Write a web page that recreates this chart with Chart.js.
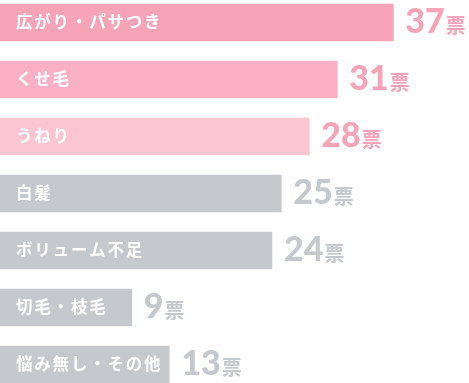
<!DOCTYPE html>
<html>
<head>
<meta charset="utf-8">
<script src="https://cdn.jsdelivr.net/npm/chart.js@4/dist/chart.umd.min.js"></script>
<style>
html,body{margin:0;padding:0;background:#fff;}
#wrap{width:469px;height:383px;}
</style>
</head>
<body>
<div id="wrap"><canvas id="c" width="469" height="383"></canvas></div>
<script>
const categories = ["広がり・パサつき", "くせ毛", "うねり", "白髪", "ボリューム不足", "切毛・枝毛", "悩み無し・その他"];
const votes = [37, 31, 28, 25, 24, 9, 13];
const unitLabel = "票";

const barColors = ["#f7a4b9", "#fcb0c6", "#fcc5d2", "#c5c9cd", "#c5c9cd", "#c5c9cd", "#c5c9cd"];
const valueColors = ["#f7a4b9", "#f7a4b9", "#f7a4b9", "#c5c9cd", "#c5c9cd", "#c5c9cd", "#c5c9cd"];

const labelPlugin = {
  id: 'barLabels',
  afterDatasetsDraw(chart) {
    const ctx = chart.ctx;
    const meta = chart.getDatasetMeta(0);
    meta.data.forEach((bar, i) => {
      const y = bar.y;
      const base = bar.base;
      ctx.save();
      ctx.fillStyle = '#ffffff';
      ctx.font = 'bold 16.5px "Noto Sans CJK JP"';
      ctx.textBaseline = 'middle';
      ctx.textAlign = 'left';
      try { ctx.letterSpacing = '1.8px'; } catch (e) {}
      ctx.fillText(categories[i], base + 16, y - 1);
      try { ctx.letterSpacing = '0px'; } catch (e) {}
      const numStr = String(votes[i]);
      ctx.fillStyle = valueColors[i];
      ctx.font = '900 34px Lato';
      ctx.textBaseline = 'alphabetic';
      const nx = bar.x + 12;
      ctx.fillText(numStr, nx, y + 10.5);
      const w = ctx.measureText(numStr).width;
      ctx.font = 'bold 20px "Noto Sans CJK JP"';
      ctx.fillText(unitLabel, nx + w + 1, y + 10);
      ctx.restore();
    });
  }
};

new Chart(document.getElementById('c'), {
  type: 'bar',
  data: {
    labels: categories,
    datasets: [{
      data: votes,
      backgroundColor: barColors,
      borderWidth: 0,
      barThickness: 37,
      base: -5.12,
      clip: false
    }]
  },
  options: {
    indexAxis: 'y',
    responsive: false,
    animation: false,
    layout: { padding: { top: 22.5, bottom: 18.5, left: 0, right: 0 } },
    plugins: { legend: { display: false }, tooltip: { enabled: false } },
    scales: {
      x: { display: false, min: -5.12, max: 45.1, grid: { display: false } },
      y: { display: false, offset: false, grid: { display: false } }
    }
  },
  plugins: [labelPlugin]
});
</script>
</body>
</html>
